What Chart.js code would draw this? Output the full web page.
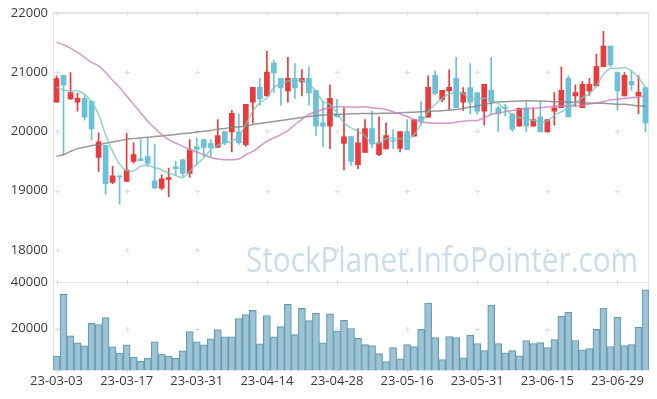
<!DOCTYPE html>
<html>
<head>
<meta charset="utf-8">
<script src="https://cdn.jsdelivr.net/npm/chart.js@4"></script>
<style>
html, body { margin: 0; padding: 0; background: #fff; }
#wrap { width: 657px; height: 399px; }
canvas { display: block; }
</style>
</head>
<body>
<div id="wrap"><canvas id="chart" width="657" height="399"></canvas></div>
<script>
// datas de pregão (2023-03-03 .. 2023-07-05)
const dates = [
  '23-03-03','23-03-06','23-03-07','23-03-08','23-03-09','23-03-10','23-03-13','23-03-14','23-03-15','23-03-16',
  '23-03-17','23-03-20','23-03-21','23-03-22','23-03-23','23-03-24','23-03-27','23-03-28','23-03-29','23-03-30',
  '23-03-31','23-04-03','23-04-04','23-04-05','23-04-06','23-04-07','23-04-10','23-04-11','23-04-12','23-04-13',
  '23-04-14','23-04-17','23-04-18','23-04-19','23-04-20','23-04-21','23-04-24','23-04-25','23-04-26','23-04-27',
  '23-04-28','23-05-02','23-05-03','23-05-04','23-05-08','23-05-09','23-05-10','23-05-11','23-05-12','23-05-15',
  '23-05-16','23-05-17','23-05-18','23-05-19','23-05-22','23-05-23','23-05-24','23-05-25','23-05-26','23-05-30',
  '23-05-31','23-06-01','23-06-02','23-06-05','23-06-07','23-06-08','23-06-09','23-06-12','23-06-13','23-06-14',
  '23-06-15','23-06-16','23-06-19','23-06-20','23-06-21','23-06-22','23-06-23','23-06-26','23-06-27','23-06-28',
  '23-06-29','23-06-30','23-07-03','23-07-04','23-07-05'
];

const opens = [
  20494,20947,20545,20494,20557,20506,19560,19764,19136,19250,
  19153,19493,19538,19572,19164,19040,19187,19402,19521,19289,
  19741,19860,19792,19730,19996,19990,19990,19775,20494,20743,
  20596,21151,20896,20681,20896,20834,20896,20692,20143,20087,
  20296,19798,19911,19436,19645,20047,19606,19702,19850,19713,
  19996,19917,20251,20240,20947,20540,20681,20896,20494,20738,
  20653,20341,20692,20398,20409,20296,20087,20398,20087,20245,
  19990,20341,20398,20896,20596,20398,20681,20766,21089,21439,
  20992,20596,20845,20596,20738
];
const highs = [
  20935,20950,20992,20641,20613,20520,19973,19764,19408,19250,
  19962,19804,19860,19889,19787,19266,19379,19492,19530,19860,
  19889,19860,19860,20200,19996,20353,20296,20455,20743,20896,
  21349,21202,20896,21247,21145,21043,21094,20692,20511,20783,
  20540,20398,19911,20047,20200,20341,20245,20143,20030,19996,
  20200,20200,20500,20936,21021,20692,21038,21247,20738,21145,
  20653,20794,21247,20420,20455,20296,20398,20500,20398,20500,
  20200,20653,21089,20936,20783,20840,20896,21304,21688,21439,
  20992,20992,21021,20936,20738
];
const lows = [
  20490,19606,20540,20341,20189,19860,19323,18938,19119,18770,
  19150,19464,19500,19408,19040,19011,18898,19260,19238,19221,
  19436,19577,19577,19730,19775,19651,19780,19747,20143,20443,
  20596,20653,20443,20494,20557,20596,20443,19928,19736,19708,
  20245,19351,19425,19368,19645,19720,19590,19702,19708,19651,
  19690,19917,20120,20240,20620,20500,20370,20398,20353,20296,
  20285,20104,20296,19990,20257,20002,20087,19990,20087,19990,
  19990,20104,20398,20245,20426,20398,20607,20766,21089,21089,
  20353,20596,20692,20296,19990
];
const closes = [
  20891,20777,20655,20557,20240,20040,19821,19119,19249,19230,
  19345,19606,19504,19459,19040,19198,19221,19368,19289,19690,
  19696,19730,19730,19928,19804,20302,19809,20455,20743,20545,
  20998,20987,20732,20896,20732,20896,20647,20087,20087,20557,
  20245,19906,19492,19804,20047,19787,19804,19928,19836,19996,
  19690,20200,20183,20743,20641,20692,20743,20398,20653,20494,
  20341,20794,20494,20296,20390,20036,20387,20087,20200,19990,
  20200,20398,20692,20245,20653,20794,20794,21094,21439,21122,
  20681,20947,20783,20658,20140
];

const volumes = [
  8200,34900,16900,13900,12600,22300,21800,24800,12100,9500,
  13000,7700,6000,7300,14300,9000,8200,7300,10400,18700,
  14300,13000,15600,19600,16500,16500,24400,26100,27900,13400,
  25700,16500,20900,30500,17400,28800,23500,26600,13900,26400,
  19000,23600,20100,15800,13100,12700,9200,5800,11800,7000,
  13100,12300,19700,31100,16200,6600,16600,16200,7400,17100,
  13600,10500,30200,13600,9600,10500,8300,14900,13600,14000,
  11800,15300,25400,27200,14900,10900,11400,19700,28900,12300,
  25000,12700,13100,20600,36800
];

// médias móveis
const ma5 = [
  20749,20698,20681,20681,20624,20500,20285,19945,19662,19447,
  19334,19334,19408,19425,19391,19351,19294,19255,19221,19323,
  19447,19549,19690,19764,19804,19832,19917,20115,20341,20483,
  20557,20738,20806,20851,20862,20862,20794,20681,20500,20455,
  20313,20143,20058,20002,19917,19804,19804,19877,19889,19877,
  19860,19945,20126,20330,20455,20557,20630,20653,20636,20540,
  20540,20557,20540,20466,20370,20285,20228,20217,20183,20160,
  20172,20274,20330,20398,20477,20568,20636,20766,20964,21060,
  21060,21077,21021,20907,20738
];
const ma20 = [
  21502,21462,21405,21332,21247,21162,21106,20992,20862,20738,
  20596,20455,20313,20172,20058,19945,19860,19804,19747,19690,
  19651,19606,19560,19532,19521,19521,19532,19605,19662,19747,
  19832,19889,19945,20013,20115,20200,20285,20330,20370,20398,
  20415,20415,20409,20409,20415,20398,20387,20370,20330,20296,
  20250,20200,20160,20143,20138,20138,20138,20155,20172,20183,
  20183,20228,20285,20313,20330,20353,20370,20381,20387,20398,
  20409,20426,20426,20426,20426,20440,20460,20480,20500,20530,
  20540,20557,20568,20579,20596
];
const ma60 = [
  19577,19606,19662,19708,19730,19758,19775,19798,19821,19843,
  19866,19877,19889,19900,19911,19923,19934,19945,19962,19973,
  19990,20002,20013,20036,20047,20070,20075,20090,20115,20132,
  20149,20166,20183,20200,20217,20234,20251,20262,20274,20279,
  20285,20290,20296,20296,20302,20302,20302,20307,20307,20313,
  20319,20324,20330,20336,20341,20347,20358,20370,20387,20409,
  20426,20455,20472,20494,20500,20506,20511,20517,20511,20511,
  20506,20500,20500,20494,20489,20483,20477,20472,20472,20466,
  20455,20455,20443,20432,20421
];

const priceTicks = [18000, 19000, 20000, 21000, 22000];
const volumeTicks = [20000, 40000];
const labelEvery = 10;

const corAlta = '#ea3a3c';
const corBaixa = '#6cc1d9';
const cores = closes.map((c, i) => c >= opens[i] ? corAlta : corBaixa);
const fonte = { family: 'Open Sans', size: 13 };

// cruzes da grade, bordas e marca d'água
const grade = {
  id: 'grade',
  beforeDatasetsDraw(chart) {
    const { ctx, chartArea, scales } = chart;
    const a = chartArea;
    ctx.save();

    ctx.font = '35px "Open Sans"';
    ctx.fillStyle = 'rgba(180,207,223,0.7)';
    ctx.textAlign = 'right';
    ctx.textBaseline = 'alphabetic';
    ctx.fillText('StockPlanet.InfoPointer.com', a.right - 11, scales.yv.top - 10, 392);

    ctx.strokeStyle = '#dedede';
    ctx.lineWidth = 1;
    const xs = [];
    for (let i = 0; i < dates.length; i += labelEvery) xs.push(Math.round(scales.x.getPixelForValue(i)) + 0.5);
    const ys = priceTicks.map(v => scales.y.getPixelForValue(v))
      .concat(volumeTicks.map(v => scales.yv.getPixelForValue(v)))
      .concat([a.bottom])
      .map(y => Math.round(y) + 0.5);
    ys.forEach(y => {
      xs.forEach(x => {
        ctx.beginPath();
        ctx.moveTo(x - 2.5, y); ctx.lineTo(x + 2.5, y);
        ctx.moveTo(x, y - 2.5); ctx.lineTo(x, y + 2.5);
        ctx.stroke();
      });
    });

    ctx.strokeStyle = '#e4e4e4';
    ctx.beginPath();
    ctx.moveTo(Math.round(a.left) + 0.5, a.top);
    ctx.lineTo(Math.round(a.left) + 0.5, a.bottom);
    ctx.moveTo(Math.round(a.right) - 0.5, a.top);
    ctx.lineTo(Math.round(a.right) - 0.5, a.bottom);
    ctx.moveTo(a.left, Math.round(a.bottom) - 0.5);
    ctx.lineTo(a.right, Math.round(a.bottom) - 0.5);
    ctx.moveTo(a.left, Math.round(scales.yv.top) + 0.5);
    ctx.lineTo(a.right, Math.round(scales.yv.top) + 0.5);
    ctx.stroke();
    ctx.lineWidth = 2;
    ctx.beginPath();
    ctx.moveTo(a.left, Math.round(a.top));
    ctx.lineTo(a.right, Math.round(a.top));
    ctx.stroke();
    ctx.restore();
  }
};

const ctx = document.getElementById('chart').getContext('2d');
new Chart(ctx, {
  data: {
    labels: dates,
    datasets: [
      {
        type: 'line', label: 'MA5', data: ma5, yAxisID: 'y',
        borderColor: 'rgba(118,200,188,0.8)', borderWidth: 1.5,
        pointRadius: 0, tension: 0.35, order: 0
      },
      {
        type: 'line', label: 'MA20', data: ma20, yAxisID: 'y',
        borderColor: 'rgba(196,128,190,0.8)', borderWidth: 1.5,
        pointRadius: 0, tension: 0.35, order: 0
      },
      {
        type: 'line', label: 'MA60', data: ma60, yAxisID: 'y',
        borderColor: 'rgba(128,128,128,0.8)', borderWidth: 1.5,
        pointRadius: 0, tension: 0.35, order: 0
      },
      {
        type: 'bar', label: 'pavio', yAxisID: 'y',
        data: lows.map((l, i) => [l, highs[i]]),
        backgroundColor: cores, barThickness: 1, grouped: false, order: 2
      },
      {
        type: 'bar', label: 'corpo', yAxisID: 'y',
        data: opens.map((o, i) => [o, closes[i]]),
        backgroundColor: cores, barThickness: 5, minBarLength: 1, grouped: false, order: 1
      },
      {
        type: 'bar', label: 'volume', yAxisID: 'yv', data: volumes,
        backgroundColor: 'rgba(146,188,208,0.9)', borderColor: '#6298b0', borderWidth: 1,
        barPercentage: 1, categoryPercentage: 1, grouped: false, order: 3
      }
    ]
  },
  options: {
    responsive: false,
    animation: false,
    layout: { padding: { top: 10.2, right: 8, left: 4, bottom: 7.1 } },
    plugins: { legend: { display: false }, tooltip: { enabled: false } },
    scales: {
      x: {
        type: 'category', offset: true,
        grid: { display: false, drawTicks: false }, border: { display: false },
        ticks: {
          autoSkip: false, maxRotation: 0, padding: 3, font: fonte, color: '#3a3a3a',
          callback: (v, i) => i % labelEvery === 0 ? dates[i] : null
        }
      },
      yv: {
        type: 'linear', position: 'left', stack: 'painel', stackWeight: 1,
        min: 2000, max: 40000,
        grid: { display: false, drawTicks: false }, border: { display: false },
        ticks: { padding: 5, font: fonte, color: '#3a3a3a', callback: v => String(v) },
        afterBuildTicks: s => { s.ticks = volumeTicks.map(v => ({ value: v })); },
        afterFit: s => { s.width = 49; }
      },
      y: {
        type: 'linear', position: 'left', stack: 'painel', stackWeight: 3.07,
        min: 17450, max: 22000,
        grid: { display: false, drawTicks: false }, border: { display: false },
        ticks: { padding: 5, font: fonte, color: '#3a3a3a', callback: v => String(v) },
        afterBuildTicks: s => { s.ticks = priceTicks.map(v => ({ value: v })); },
        afterFit: s => { s.width = 49; }
      }
    }
  },
  plugins: [grade]
});
</script>
</body>
</html>
